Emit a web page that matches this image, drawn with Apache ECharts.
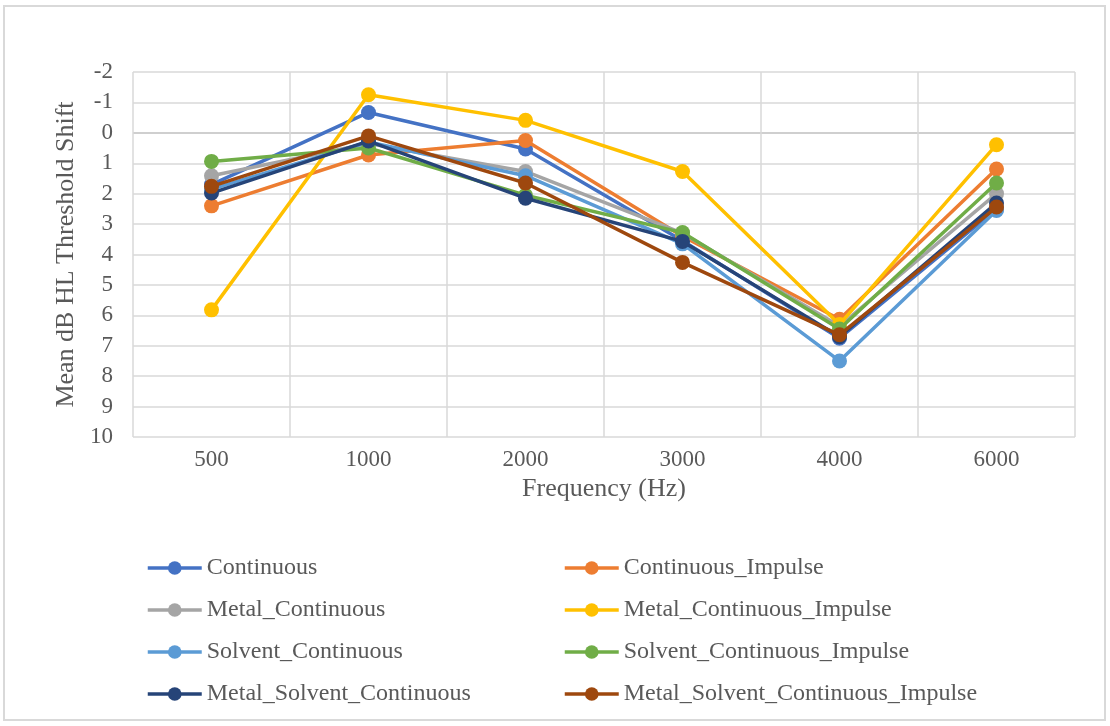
<!DOCTYPE html>
<html>
<head>
<meta charset="utf-8">
<script src="https://cdn.jsdelivr.net/npm/echarts@6/dist/echarts.min.js"></script>
<style>
  html, body { margin: 0; padding: 0; background: #fff; }
  #frame { position: absolute; left: 3px; top: 5px; width: 1103px; height: 716px; border: 2px solid #d9d9d9; box-sizing: border-box; }
  #chart { position: absolute; left: 0; top: 0; width: 1110px; height: 726px; }
</style>
</head>
<body>
<div id="frame"></div>
<div id="chart"></div>
<script>
// Test frequencies (Hz)
const frequencies = ['500', '1000', '2000', '3000', '4000', '6000'];

// Mean threshold shift (dB HL) per exposure group
const continuous                    = [1.70, -0.67, 0.53, 3.55, 6.75, 2.50];
const continuousImpulse             = [2.40, 0.73, 0.25, 3.40, 6.13, 1.19];
const metalContinuous               = [1.41, 0.35, 1.27, 3.30, 6.35, 2.00];
const metalContinuousImpulse        = [5.82, -1.25, -0.41, 1.27, 6.30, 0.39];
const solventContinuous             = [1.85, 0.30, 1.41, 3.65, 7.50, 2.55];
const solventContinuousImpulse      = [0.94, 0.50, 2.05, 3.28, 6.45, 1.65];
const metalSolventContinuous        = [1.98, 0.27, 2.15, 3.57, 6.70, 2.31];
const metalSolventContinuousImpulse = [1.76, 0.10, 1.65, 4.26, 6.64, 2.44];

const seriesNames = [
  'Continuous', 'Continuous_Impulse',
  'Metal_Continuous', 'Metal_Continuous_Impulse',
  'Solvent_Continuous', 'Solvent_Continuous_Impulse',
  'Metal_Solvent_Continuous', 'Metal_Solvent_Continuous_Impulse'
];
const seriesValues = [
  continuous, continuousImpulse,
  metalContinuous, metalContinuousImpulse,
  solventContinuous, solventContinuousImpulse,
  metalSolventContinuous, metalSolventContinuousImpulse
];
const palette = ['#4472C4', '#ED7D31', '#A5A5A5', '#FFC000', '#5B9BD5', '#70AD47', '#264478', '#9E480E'];

// y ticks run -2..10; the zero line is the category axis, drawn a bit darker
const yTicks = [-2, -1, 0, 1, 2, 3, 4, 5, 6, 7, 8, 9, 10];
const gridColors = yTicks.map(v => v === 0 ? '#bfbfbf' : '#d9d9d9');

const font = '"Liberation Serif", "Times New Roman", serif';
const textColor = '#595959';

const chart = echarts.init(document.getElementById('chart'), null, { renderer: 'canvas' });

const legendCommon = {
  orient: 'vertical',
  top: 551,
  itemWidth: 54,
  itemHeight: 17,
  itemGap: 18,
  lineStyle: { width: 3.5 },
  textStyle: { fontFamily: font, fontSize: 24, color: textColor, padding: [0, 0, 0, 0] }
};

chart.setOption({
  animation: false,
  backgroundColor: 'transparent',
  color: palette,
  grid: { left: 133, right: 35, top: 72, bottom: 289, containLabel: false },
  legend: [
    Object.assign({ left: 141, data: [seriesNames[0], seriesNames[2], seriesNames[4], seriesNames[6]] }, legendCommon),
    Object.assign({ left: 558, data: [seriesNames[1], seriesNames[3], seriesNames[5], seriesNames[7]] }, legendCommon)
  ],
  xAxis: {
    type: 'category',
    data: frequencies,
    boundaryGap: true,
    name: 'Frequency (Hz)',
    nameLocation: 'middle',
    nameGap: 34,
    nameTextStyle: { fontFamily: font, fontSize: 26, color: textColor },
    axisLine: { show: false },
    axisTick: { show: false },
    axisLabel: { fontFamily: font, fontSize: 23, color: textColor, margin: 11 },
    splitLine: { show: true, lineStyle: { color: '#d9d9d9', width: 1.5 } }
  },
  yAxis: {
    type: 'value',
    inverse: true,
    min: -2,
    max: 10,
    interval: 1,
    name: 'Mean dB HL Threshold Shift',
    nameLocation: 'middle',
    nameGap: 54,
    nameTextStyle: { fontFamily: font, fontSize: 26, color: textColor },
    axisLine: { show: false },
    axisTick: { show: false },
    axisLabel: { fontFamily: font, fontSize: 23, color: textColor, margin: 20 },
    splitLine: { show: true, lineStyle: { color: gridColors, width: 1.5 } }
  },
  series: seriesNames.map((name, i) => ({
    name: name,
    type: 'line',
    data: seriesValues[i],
    symbol: 'circle',
    symbolSize: 15,
    lineStyle: { width: 3.5, color: palette[i] },
    itemStyle: { color: palette[i] },
    z: 2 + i
  }))
});
</script>
</body>
</html>
